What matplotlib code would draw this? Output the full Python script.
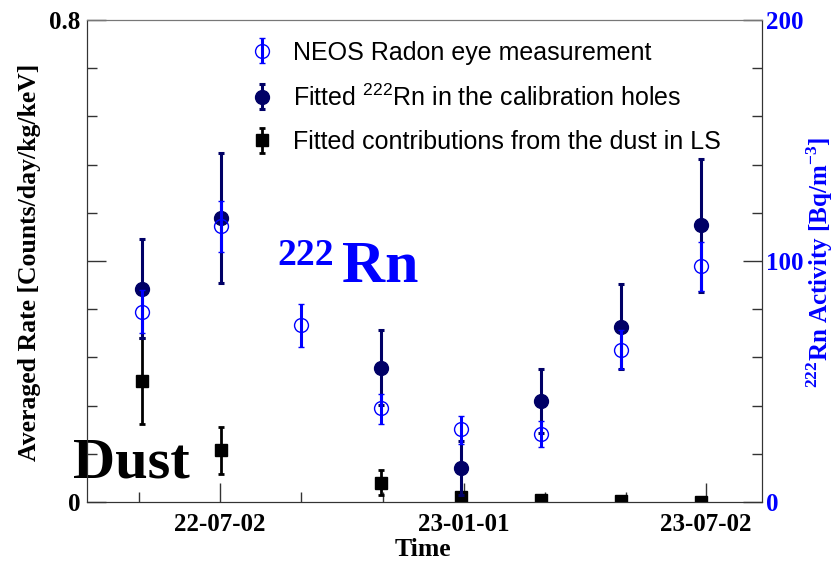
import matplotlib
matplotlib.use('Agg')
import matplotlib.pyplot as plt
import matplotlib.dates as mdates
from matplotlib.ticker import FixedLocator, MultipleLocator, FixedFormatter
import numpy as np
import datetime as dt

# ---------------- data ----------------
dates = ['2022-05-04', '2022-07-03', '2022-09-01', '2022-10-31',
         '2022-12-30', '2023-02-28', '2023-04-29', '2023-06-28']

# NEOS Radon eye measurement (right axis, Bq/m^3)
eye_val = [79.0, 114.6, 73.4, 38.9, 30.2, 28.2, 63.0, 97.9]
eye_lo = [70.0, 103.9, 64.5, 32.4, 24.0, 22.9, 55.2, 87.7]
eye_hi = [88.0, 125.0, 82.2, 44.8, 35.7, 33.6, 71.4, 108.0]

# Fitted 222Rn in calibration holes (left axis)
rn_dates = ['2022-05-04', '2022-07-03', '2022-10-31', '2022-12-30',
            '2023-02-28', '2023-04-29', '2023-06-28']
rn_val = [0.354, 0.472, 0.223, 0.056, 0.168, 0.291, 0.459]
rn_err = [0.082, 0.108, 0.062, 0.045, 0.053, 0.071, 0.110]

# Fitted dust contributions (left axis)
dust_dates = rn_dates
dust_val = [0.201, 0.086, 0.032, 0.009, 0.003, 0.0017, 0.0]
dust_err = [0.072, 0.039, 0.021, 0.004, 0.002, 0.001, 0.001]

major_dates = ['2022-07-02', '2023-01-01', '2023-07-02']
major_labels = ['22-07-02', '23-01-01', '23-07-02']
xlim_dates = ['2022-03-24', '2023-08-13']

left_ylim = (0, 0.8)
right_ylim = (0, 200)

# ---------------- helpers ----------------
def to_num(lst):
    return mdates.date2num([dt.datetime.strptime(s, '%Y-%m-%d') for s in lst])

BLUE = '#0000ff'
NAVY = '#000066'
SERIF = ['Liberation Serif', 'DejaVu Serif']
SANS = ['Liberation Sans', 'DejaVu Sans']

plt.rcParams['mathtext.fontset'] = 'custom'
plt.rcParams['mathtext.rm'] = 'Liberation Serif:bold'
plt.rcParams['mathtext.bf'] = 'Liberation Serif:bold'
plt.rcParams['mathtext.sf'] = 'Liberation Sans'

fig = plt.figure(figsize=(8.35, 5.63), dpi=100)
ax = fig.add_axes([87/835, 61/563, 675/835, 482/563])
ax2 = ax.twinx()

x_eye = to_num(dates)
x_rn = to_num(rn_dates)
x_dust = to_num(dust_dates)

h_dust = ax.errorbar(x_dust, dust_val, yerr=dust_err, fmt='s', color='black',
                     ms=9, elinewidth=2.0, capsize=2.0, capthick=2.0, zorder=3)
h_rn = ax.errorbar(x_rn, rn_val, yerr=rn_err, fmt='o', color=NAVY,
                   ms=10, elinewidth=2.2, capsize=2.0, capthick=2.2, zorder=4)
eye_err = [np.array(eye_val) - np.array(eye_lo), np.array(eye_hi) - np.array(eye_val)]
h_eye = ax2.errorbar(x_eye, eye_val, yerr=eye_err, fmt='o', color=BLUE, mfc='none',
                     mec=BLUE, mew=1.0, ms=10, elinewidth=2.2, capsize=2.0,
                     capthick=2.2, zorder=5)

xl = to_num(xlim_dates)
ax.set_xlim(xl[0], xl[1])
ax.set_ylim(*left_ylim)
ax2.set_ylim(*right_ylim)

# x ticks
xmaj = to_num(major_dates)
step = (xmaj[1] - xmaj[0]) / 3.0
xmin = [xmaj[0] - step, xmaj[0] + step, xmaj[0] + 2*step,
        xmaj[1] + step, xmaj[1] + 2*step]
ax.xaxis.set_major_locator(FixedLocator(xmaj))
ax.xaxis.set_major_formatter(FixedFormatter(major_labels))
ax.xaxis.set_minor_locator(FixedLocator(xmin))

# left y ticks
ax.yaxis.set_major_locator(FixedLocator([0, 0.4, 0.8]))
ax.yaxis.set_major_formatter(FixedFormatter(['0', '', '0.8']))
ax.yaxis.set_minor_locator(MultipleLocator(0.08))
# right y ticks
ax2.yaxis.set_major_locator(FixedLocator([0, 100, 200]))
ax2.yaxis.set_major_formatter(FixedFormatter(['0', '100', '200']))
ax2.yaxis.set_minor_locator(MultipleLocator(20))

SPC = '#333333'
ax.tick_params(axis='both', which='both', direction='in', colors=SPC,
               top=False, right=False, width=1.0)
ax.tick_params(axis='both', which='major', length=14)
ax.tick_params(axis='both', which='minor', length=7)
ax.tick_params(axis='x', which='major', pad=8)
ax.tick_params(axis='y', which='major', pad=5)
ax2.tick_params(axis='y', which='both', direction='in', colors=SPC, width=1.0)
ax2.tick_params(axis='y', which='major', length=14, pad=3)
ax2.tick_params(axis='y', which='minor', length=7)

for lab in ax.get_xticklabels() + ax.get_yticklabels():
    lab.set_fontfamily(SERIF)
    lab.set_fontweight('bold')
    lab.set_fontsize(18)
    lab.set_color('black')
for lab in ax2.get_yticklabels():
    lab.set_fontfamily(SERIF)
    lab.set_fontweight('bold')
    lab.set_fontsize(18)
    lab.set_color(BLUE)

for sp in ax.spines.values():
    sp.set_color(SPC)
for sp in ax2.spines.values():
    sp.set_color(SPC)
ax.spines['top'].set_color('#777777')
ax2.spines['top'].set_color('#777777')

# axis titles
fig.text(30/835, (563-262)/563, 'Averaged Rate [Counts/day/kg/keV]', rotation=90,
         ha='center', va='center', fontsize=18.5, fontweight='bold',
         family=SERIF, color='black')
fig.text(820/835, (563-262)/563,
         r'$^{222}$Rn Activity [Bq/m$^{-3}$]', rotation=90,
         ha='center', va='center', fontsize=18, fontweight='bold',
         family=SERIF, color=BLUE)
fig.text(423/835, (563-550)/563, 'Time', ha='center', va='center',
         fontsize=18.5, fontweight='bold', family=SERIF, color='black')

# annotations
ax.text((342-87)/675, (502-282)/482, 'Rn', transform=ax.transAxes,
        ha='left', va='baseline', fontsize=43, fontweight='bold',
        family=SERIF, color=BLUE)
ax.text((277-87)/675, (502-265)/482, '222', transform=ax.transAxes,
        ha='left', va='baseline', fontsize=27, fontweight='bold',
        family=SERIF, color=BLUE)
ax.text((73-87)/675, (502-478)/482, 'Dust', transform=ax.transAxes,
        ha='left', va='baseline', fontsize=42, fontweight='bold',
        family=SERIF, color='black', zorder=1)

# legend
leg = ax.legend([h_eye, h_rn, h_dust],
                ['NEOS Radon eye measurement',
                 r'Fitted $^{\mathsf{222}}$Rn in the calibration holes',
                 'Fitted contributions from the dust in LS'],
                loc='upper left', bbox_to_anchor=((249.5-87)/675, 0.957),
                frameon=False, borderpad=0, borderaxespad=0,
                handlelength=1.0, handletextpad=0.74, labelspacing=0.78,
                prop={'family': SANS, 'size': 18})

fig.savefig('out.png', dpi=100)
